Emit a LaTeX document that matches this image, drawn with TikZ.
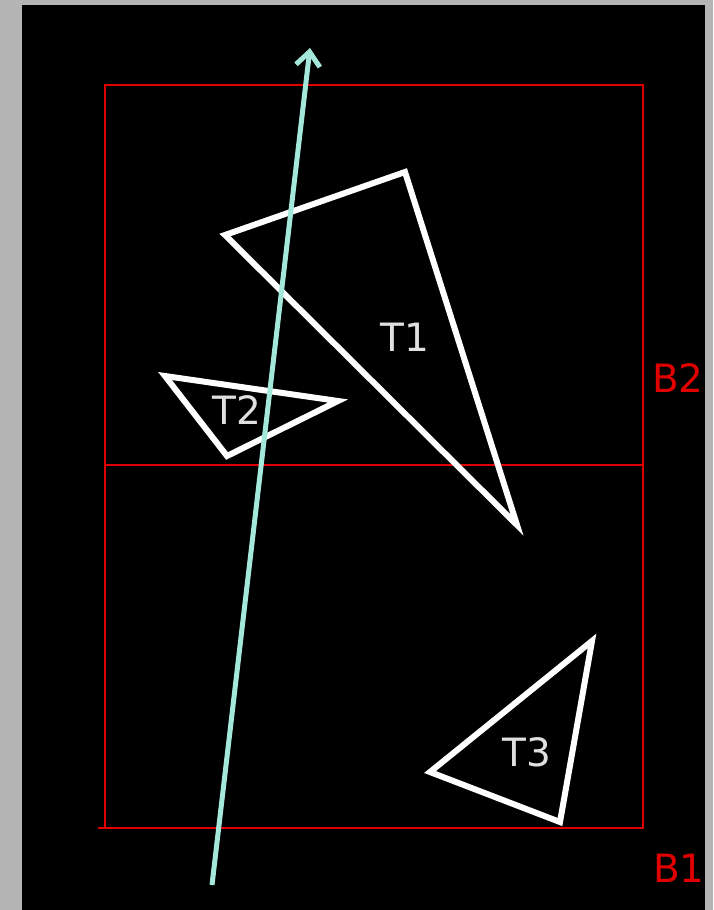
\documentclass[tikz,border=0pt]{standalone}
\usepackage{fontspec}
\setmainfont{DejaVu Sans}
\usetikzlibrary{arrows.meta}
\definecolor{bgr}{HTML}{B4B4B4}
\definecolor{rd}{HTML}{E00000}
\definecolor{cy}{HTML}{A4E8DC}
\definecolor{lbl}{HTML}{E0E0E0}
\begin{document}
\begin{tikzpicture}[x=1pt,y=-1pt,
  box/.style={draw=rd,line width=2pt},
  tri/.style={draw=white,line width=6pt,line join=miter},
  tlabel/.style={text=lbl,font=\fontsize{39}{39}\selectfont,inner sep=0pt},
  blabel/.style={text=rd,font=\fontsize{39}{39}\selectfont,inner sep=0pt},
  ray/.style={draw=cy,line width=5pt,-{Straight Barb[length=14pt,width=24pt,line width=5pt]}}]
\fill[bgr] (0,0) rectangle (713,910);
\useasboundingbox (0,0) rectangle (713,910);
\fill[black] (22,5) rectangle (705,910);
% boxes
\draw[box] (105,465) rectangle (643,85);
\draw[box] (98,828) -- (643,828) -- (643,465);
\draw[box] (105,465) -- (105,828);
\node[blabel] (b2) at (678,378) {B2};
\node[blabel] (b1) at (679,868) {B1};
% triangles
\draw[tri] (225,235) -- (405,172) -- (517,525) -- cycle;
\draw[tri] (165,376) -- (338,401) -- (227,456) -- cycle;
\draw[tri] (592,641) -- (560,822) -- (430,772) -- cycle;
\node[tlabel] (t1) at (405,337) {T1};
\node[tlabel] (t2) at (237,410) {T2};
\node[tlabel] (t3) at (527,752) {T3};
% ray
\coordinate (rs) at (212,885);
\coordinate (re) at (310,48);
\draw[ray] (rs) -- (re);
\end{tikzpicture}
\end{document}
